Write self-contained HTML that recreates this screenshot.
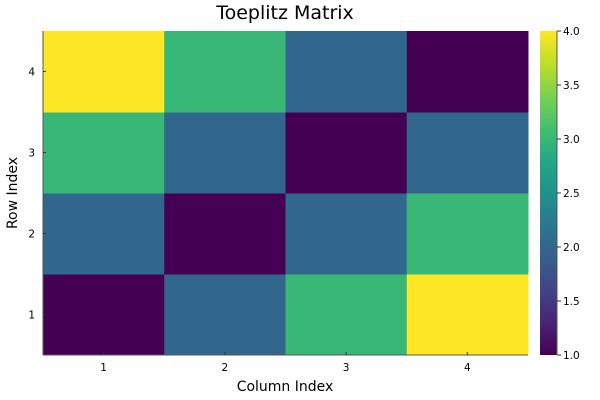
<!DOCTYPE html>
<html><head><meta charset="utf-8"><style>body{margin:0;background:#fff}svg{display:block}text{font-family:"DejaVu Sans","Liberation Sans",sans-serif}</style></head>
<body>
<svg id="chart" width="600" height="400">
<defs><linearGradient id="vir" x1="0" y1="1" x2="0" y2="0">
<stop offset="0" stop-color="#440154"/><stop offset="0.1" stop-color="#482475"/><stop offset="0.2" stop-color="#414487"/><stop offset="0.3" stop-color="#355f8d"/><stop offset="0.4" stop-color="#2a788e"/><stop offset="0.5" stop-color="#21918c"/><stop offset="0.6" stop-color="#22a884"/><stop offset="0.7" stop-color="#44bf70"/><stop offset="0.8" stop-color="#7ad151"/><stop offset="0.9" stop-color="#bddf26"/><stop offset="1" stop-color="#fde725"/></linearGradient></defs>
<text x="285" y="19" font-size="19" text-anchor="middle">Toeplitz Matrix</text>
<text x="285" y="391" font-size="14" text-anchor="middle">Column Index</text>
<text x="17" y="193" font-size="14" text-anchor="middle" transform="rotate(-90 17 193)">Row Index</text>
<g id="cells"></g>
<g id="axes"></g>
<rect x="540" y="31" width="17" height="324" fill="url(#vir)"/>
<g id="cbticks"></g>
</svg>
<script>
const cols = [1,2,3,4];
const rows = [1,2,3,4];
const values = [[1,2,3,4],[2,1,2,3],[3,2,1,2],[4,3,2,1]]; // values[row][col], row 1 at bottom
const cbTicks = ["1.0","1.5","2.0","2.5","3.0","3.5","4.0"];
const vmin = 1, vmax = 4;
const L=43,R=528,T=31,B=355;
const ns="http://www.w3.org/2000/svg";
const xs = c => L + (c-0.5)/cols.length*(R-L);
const ys = r => B - (r-0.5)/rows.length*(B-T);
const stops=["#440154","#482475","#414487","#355f8d","#2a788e","#21918c","#22a884","#44bf70","#7ad151","#bddf26","#fde725"];
function hx(h){return [1,3,5].map(i=>parseInt(h.substr(i,2),16));}
function color(v){let t=(v-vmin)/(vmax-vmin)*10;let i=Math.min(9,Math.floor(t));let f=t-i;let a=hx(stops[i]),b=hx(stops[i+1]);return "rgb("+a.map((x,k)=>Math.round(x+(b[k]-x)*f)).join(",")+")";}
function mk(tag,attrs,parent){const e=document.createElementNS(ns,tag);for(const k in attrs)e.setAttribute(k,attrs[k]);parent.appendChild(e);return e;}
const cg=document.getElementById('cells'),ag=document.getElementById('axes'),tg=document.getElementById('cbticks');
const cw=(R-L)/cols.length, rh=(B-T)/rows.length;
rows.forEach((r,ri)=>cols.forEach((c,ci)=>{
  const e=mk('rect',{x:xs(c)-cw/2,y:ys(r)-rh/2,width:cw+0.5,height:rh+0.5,fill:color(values[ri][ci])},cg);
  
  
}));
mk('line',{x1:L,y1:B,x2:R,y2:B,stroke:'#555','stroke-width':1},ag);
mk('line',{x1:L,y1:T,x2:L,y2:B,stroke:'#555','stroke-width':1},ag);
cols.forEach(c=>{
  mk('line',{x1:xs(c),y1:B,x2:xs(c),y2:B-3,stroke:'#333'},ag);
  const t=mk('text',{x:xs(c),y:B+16,'font-size':10.5,'text-anchor':'middle'},ag);t.textContent=c;
  
  
});
rows.forEach(r=>{
  mk('line',{x1:L,y1:ys(r),x2:L+3,y2:ys(r),stroke:'#333'},ag);
  const t=mk('text',{x:L-8,y:ys(r)+4,'font-size':10.5,'text-anchor':'end'},ag);t.textContent=r;
  
  
});
mk('line',{x1:557,y1:31,x2:557,y2:355,stroke:'#555'},tg);
cbTicks.forEach(s=>{
  const y=B-(parseFloat(s)-vmin)/(vmax-vmin)*(B-T);
  mk('line',{x1:557,y1:y,x2:561,y2:y,stroke:'#333'},tg);
  const t=mk('text',{x:563,y:y+4,'font-size':10.5},tg);t.textContent=s;
  
  
});
</script>
</body></html>
